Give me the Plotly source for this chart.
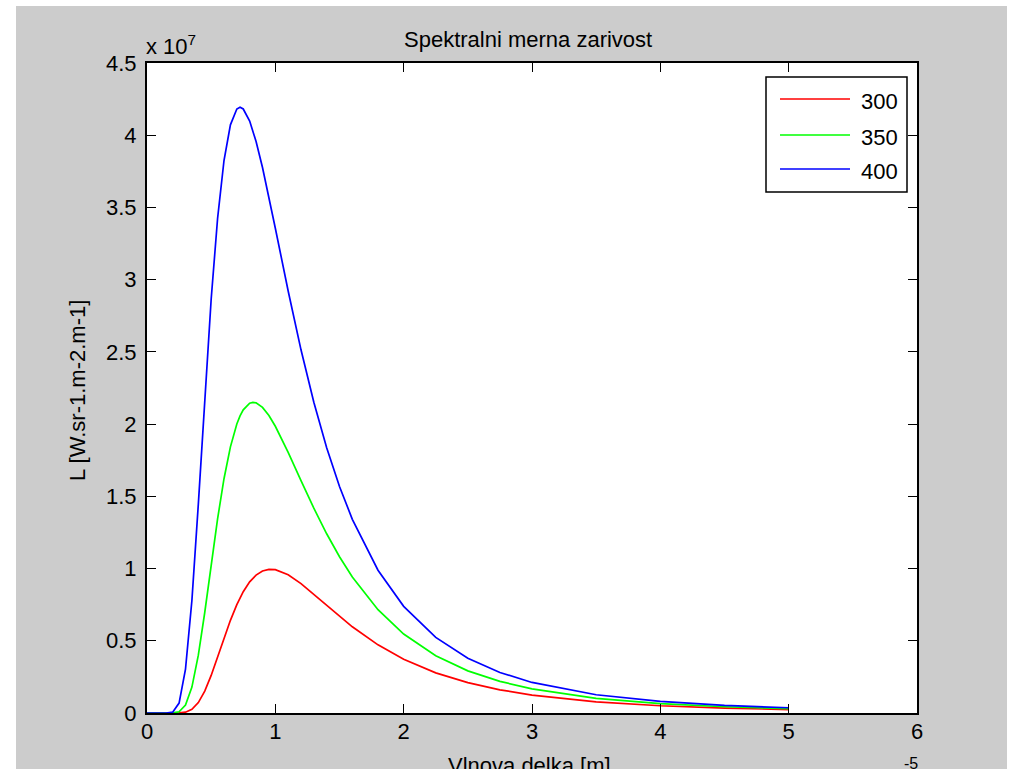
import plotly.graph_objects as go

# Wavelength in units of 1e-5 m
wavelength = [0, 0.1, 0.15, 0.2, 0.25, 0.3, 0.35, 0.4, 0.45, 0.5, 0.55, 0.6, 0.65, 0.7, 0.725,
              0.75, 0.8, 0.825, 0.85, 0.9, 0.95, 1.0, 1.1, 1.2, 1.3, 1.4, 1.5, 1.6, 1.8, 2.0,
              2.25, 2.5, 2.75, 3.0, 3.5, 4.0, 4.5, 5.0]

# Spectral radiance in units of 1e7 W.sr-1.m-2.m-1
L300 = [0, 0, 0, 0.0000, 0.0006, 0.0056, 0.0254, 0.0722, 0.1518, 0.2602, 0.3865, 0.5174,
        0.6415, 0.7505, 0.7977, 0.8397, 0.9077, 0.9338, 0.9548, 0.9829, 0.9945, 0.9923,
        0.9572, 0.8961, 0.8222, 0.7445, 0.6684, 0.5967, 0.4718, 0.3722, 0.2780, 0.2099,
        0.1604, 0.1242, 0.0772, 0.0502, 0.0339, 0.0237]
L350 = [0, 0, 0, 0.0004, 0.0088, 0.0549, 0.1796, 0.4002, 0.6958, 1.0245, 1.3436, 1.6219,
        1.8426, 2.0006, 2.0568, 2.0988, 2.1446, 2.1508, 2.1474, 2.1160, 2.0594, 1.9850,
        1.8046, 1.6090, 1.4179, 1.2408, 1.0820, 0.9420, 0.7151, 0.5465, 0.3960, 0.2919,
        0.2189, 0.1669, 0.1014, 0.0648, 0.0432, 0.0299]
L400 = [0, 0, 0.0001, 0.0058, 0.0688, 0.3042, 0.7803, 1.4464, 2.1805, 2.8647, 3.4233, 3.8250,
        4.0718, 4.1812, 4.1935, 4.1817, 4.0983, 4.0337, 3.9566, 3.7761, 3.5718, 3.3561,
        2.9216, 2.5144, 2.1515, 1.8367, 1.5682, 1.3410, 0.9885, 0.7384, 0.5233, 0.3793,
        0.2806, 0.2115, 0.1264, 0.0798, 0.0527, 0.0362]

series_names = ["300", "350", "400"]
series_values = [L300, L350, L400]
series_colors = ["#ff0000", "#00ff00", "#0000ff"]

title_text = "Spektralni merna zarivost"
xlabel_text = "Vlnova delka [m]"
ylabel_text = "L [W.sr-1.m-2.m-1]"

FONT = "Liberation Sans, Arial, sans-serif"
FS = 22

# plot area geometry (pixels)
W, H = 1015, 769
L_, R_, T_, B_ = 147, 917, 63, 713
PW, PH = R_ - L_, B_ - T_


def px(xp):
    return (xp - L_) / PW


def py(yp):
    return (B_ - yp) / PH


fig = go.Figure()
for name, vals, col in zip(series_names, series_values, series_colors):
    fig.add_trace(go.Scatter(x=wavelength, y=vals, mode="lines", name=name,
                             line=dict(color=col, width=1.7), showlegend=False))

shapes = [
    dict(type="rect", xref="paper", yref="paper", x0=px(16), x1=px(1007), y0=py(790), y1=py(6),
         fillcolor="#cccccc", line=dict(width=0), layer="below"),
    dict(type="rect", xref="paper", yref="paper", x0=0, x1=1, y0=0, y1=1,
         fillcolor="white", line=dict(width=0), layer="below"),
    # legend box
    dict(type="rect", xref="paper", yref="paper", x0=px(766), x1=px(907), y0=py(192), y1=py(77),
         fillcolor="white", line=dict(color="black", width=1.5), layer="above"),
]
annotations = []
row_y = [99, 135, 169]
for name, col, ry in zip(series_names, series_colors, row_y):
    shapes.append(dict(type="line", xref="paper", yref="paper", x0=px(780), x1=px(850),
                       y0=py(ry), y1=py(ry), line=dict(color=col, width=1.7), layer="above"))
    annotations.append(dict(text=name, xref="paper", yref="paper", x=px(859), y=py(ry + 2),
                            xanchor="left", yanchor="middle", showarrow=False,
                            font=dict(family=FONT, size=FS, color="black")))

annotations += [
    dict(text=title_text, xref="paper", yref="paper", x=px(528), y=py(39),
         xanchor="center", yanchor="middle", showarrow=False,
         font=dict(family=FONT, size=FS, color="black")),
    dict(text="x 10<sup>7</sup>", xref="paper", yref="paper", x=px(144), y=py(61),
         xanchor="left", yanchor="bottom", showarrow=False,
         font=dict(family=FONT, size=FS, color="black")),
    dict(text=ylabel_text, xref="paper", yref="paper", x=px(77), y=py(391), textangle=-90,
         xanchor="center", yanchor="middle", showarrow=False,
         font=dict(family=FONT, size=FS, color="black")),
    dict(text=xlabel_text, xref="paper", yref="paper", x=px(529), y=py(751),
         xanchor="center", yanchor="top", showarrow=False,
         font=dict(family=FONT, size=FS, color="black")),
    dict(text="-5", xref="paper", yref="paper", x=px(902), y=py(753),
         xanchor="left", yanchor="top", showarrow=False,
         font=dict(family=FONT, size=16, color="black")),
]

axis_common = dict(showgrid=False, zeroline=False, showline=True, linecolor="black",
                   linewidth=2, mirror="ticks", ticks="inside", ticklen=9, tickwidth=1.3,
                   tickcolor="black", tickfont=dict(family=FONT, size=FS, color="black"))

fig.update_layout(
    width=W, height=H, autosize=False,
    margin=dict(l=L_, r=W - R_, t=T_, b=H - B_, pad=0),
    paper_bgcolor="white", plot_bgcolor="rgba(0,0,0,0)",
    xaxis=dict(range=[0, 6], tickmode="linear", tick0=0, dtick=1, ticklabelstandoff=-2,
               **axis_common),
    yaxis=dict(range=[0, 4.5], tickmode="linear", tick0=0, dtick=0.5, ticklabelstandoff=4,
               **axis_common),
    shapes=shapes, annotations=annotations, showlegend=False,
)

fig.write_html("out.html", config={"displayModeBar": False},
               post_script="document.body.style.margin='0';document.body.style.overflow='hidden';")
